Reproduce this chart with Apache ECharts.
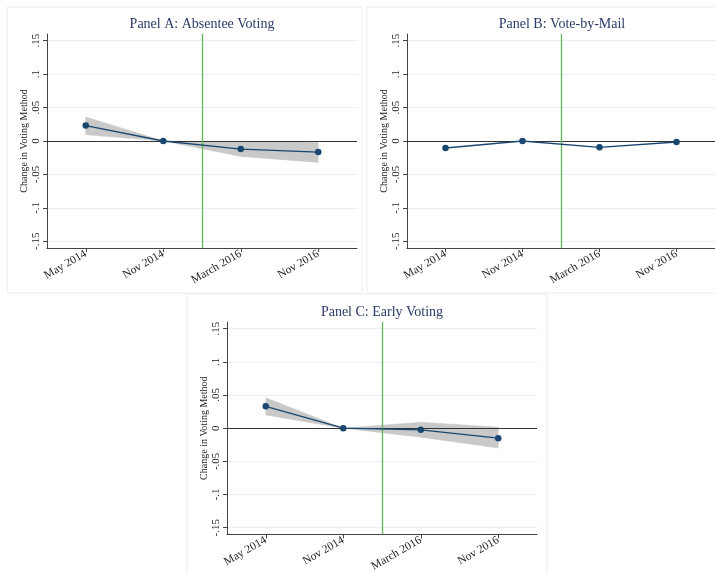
<!DOCTYPE html>
<html>
<head>
<meta charset="utf-8">
<script src="https://cdn.jsdelivr.net/npm/echarts@6/dist/echarts.min.js"></script>
<style>
html,body{margin:0;padding:0;background:#fff}
#chart{width:715px;height:574px}
</style>
</head>
<body>
<div id="chart"></div>
<script>
var periods = ["May 2014", "Nov 2014", "March 2016", "Nov 2016"];
var xPos = [1, 2, 3, 4];
var yTicks = [-0.15, -0.1, -0.05, 0, 0.05, 0.1, 0.15];
var titles = ["Panel A: Absentee Voting", "Panel B: Vote-by-Mail", "Panel C: Early Voting"];
var policyAt = 2.5;

// point estimates and 95% band
var absentee   = [0.023, 0, -0.012, -0.0165];
var absenteeHi = [0.036, 0, -0.0005, -0.002];
var absenteeLo = [0.0095, 0, -0.023, -0.032];
var mail       = [-0.0105, 0, -0.0095, -0.0015];
var early      = [0.033, 0, -0.0025, -0.015];
var earlyHi    = [0.046, 0, 0.009, 0.0015];
var earlyLo    = [0.02, 0, -0.0135, -0.03];

var navy = "#1a476f";
var serif = "Liberation Serif";

function pairs(vals){
 return xPos.map(function(x,i){ return [x, vals[i]]; });
}
function fmtY(v){
 if(v===0) return "0";
 return (v<0?"-":"") + String(Math.abs(v)).replace(/^0/,"");
}

// band drawn piece by piece between neighbouring periods
function bandPiece(params, api){
 var i = params.dataIndexInside;
 if(i >= params.dataInsideLength-1) return;
 var a = [api.value(0,i), api.value(1,i), api.value(2,i)];
 var b = [api.value(0,i+1), api.value(1,i+1), api.value(2,i+1)];
 var pts = [
  api.coord([a[0], a[2]]), api.coord([b[0], b[2]]),
  api.coord([b[0], b[1]]), api.coord([a[0], a[1]])
 ];
 return {type:"polygon", shape:{points:pts}, style:{fill:"#c9c9c9", stroke:"#c9c9c9", lineWidth:0.5}};
}

var panels = [
 {left:47, top:34, est:absentee, hi:absenteeHi, lo:absenteeLo},
 {left:407, top:34, est:mail},
 {left:227, top:322, est:early, hi:earlyHi, lo:earlyLo}
];

var grid = [], xAxis = [], yAxis = [], series = [], title = [];

panels.forEach(function(p, k){
 grid.push({left:p.left, top:p.top, width:310, height:214});
 title.push({
  text: titles[k], left: p.left+155, top: p.top-17, textAlign:"center", padding:0,
  textStyle:{fontFamily:serif, fontSize:14, fontWeight:"normal", color:"#2b3a67"}
 });
 xAxis.push({
  type:"value", gridIndex:k, min:0.5, max:4.5,
  axisLine:{onZero:false, lineStyle:{color:"#444", width:1}},
  axisTick:{customValues:xPos, length:4, lineStyle:{color:"#444"}},
  axisLabel:{customValues:xPos, rotate:30, margin:5, fontFamily:serif, fontSize:11.5, color:"#222",
   formatter:function(v){ return periods[v-1]; }},
  splitLine:{show:false}
 });
 yAxis.push({
  type:"value", gridIndex:k, min:-0.16, max:0.16,
  name:"Change in Voting Method", nameLocation:"middle", nameGap:18,
  nameTextStyle:{fontFamily:serif, fontSize:10, color:"#222"},
  axisLine:{show:true, onZero:false, lineStyle:{color:"#444", width:1}},
  axisTick:{show:true, customValues:yTicks, length:4, lineStyle:{color:"#444"}},
  axisLabel:{customValues:yTicks, rotate:90, margin:5, fontFamily:serif, fontSize:11, color:"#222",
   formatter:fmtY},
  splitLine:{show:true, lineStyle:{color:"#e7f0f1", width:1}}
 });

 if(p.hi){
  series.push({
   type:"custom", xAxisIndex:k, yAxisIndex:k, silent:true, z:1,
   data:xPos.map(function(x,i){ return [x, p.lo[i], p.hi[i]]; }),
   encode:{x:0, y:[1,2]},
   renderItem:bandPiece
  });
 }
 series.push({
  type:"line", xAxisIndex:k, yAxisIndex:k, data:pairs(p.est),
  symbol:"circle", symbolSize:6.5, itemStyle:{color:navy},
  lineStyle:{color:navy, width:1.3}, z:5,
  markLine:{
   silent:true, symbol:"none", label:{show:false},
   data:[
    {yAxis:0, lineStyle:{color:"#333", width:1, type:"solid"}},
    {xAxis:policyAt, lineStyle:{color:"#5fb957", width:1.3, type:"solid"}}
   ]
  }
 });
});

var chart = echarts.init(document.getElementById("chart"));
chart.setOption({
 animation:false,
 backgroundColor:"#fff",
 title:title,
 grid:grid,
 xAxis:xAxis,
 yAxis:yAxis,
 series:series,
 graphic:[
  {type:"rect", shape:{x:7, y:7, width:355, height:286}, style:{fill:null, stroke:"#e8eef2", lineWidth:1}, silent:true},
  {type:"rect", shape:{x:367, y:7, width:360, height:286}, style:{fill:null, stroke:"#e8eef2", lineWidth:1}, silent:true},
  {type:"rect", shape:{x:187, y:294, width:360, height:300}, style:{fill:null, stroke:"#e8eef2", lineWidth:1}, silent:true}
 ]
});
</script>
</body>
</html>
